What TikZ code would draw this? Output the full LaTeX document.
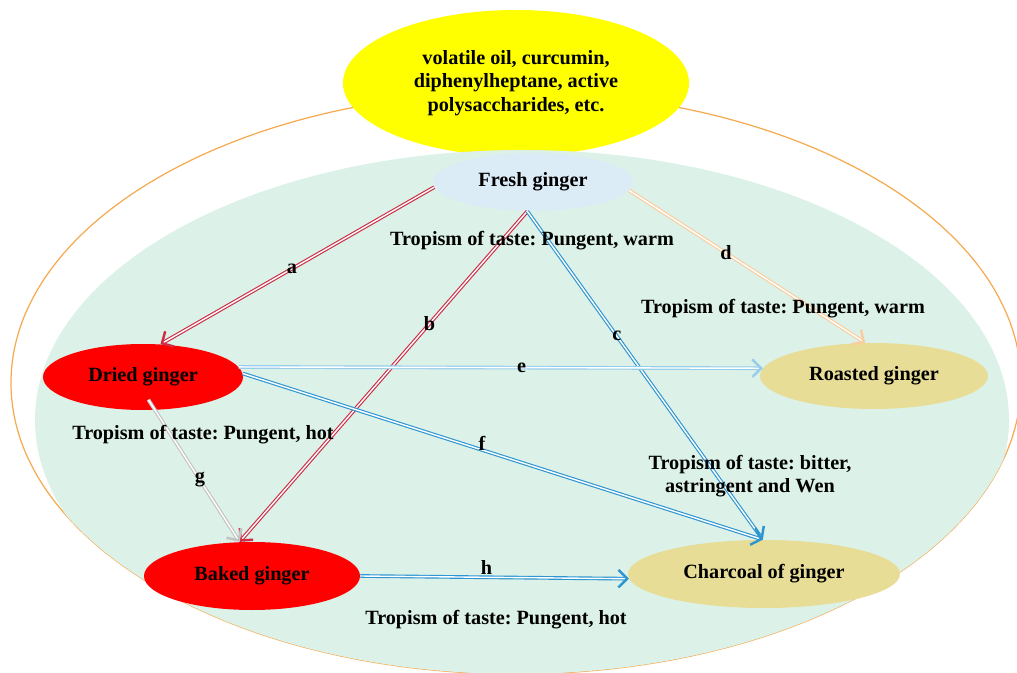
\documentclass[tikz,border=0pt]{standalone}
\usepackage{fontspec}
\setmainfont{Liberation Serif}
\usetikzlibrary{shapes.geometric,arrows.meta}
\definecolor{ringorange}{RGB}{245,170,80}
\definecolor{compyellow}{RGB}{255,255,0}
\definecolor{bggreen}{RGB}{220,241,231}
\definecolor{freshblue}{RGB}{220,236,246}
\definecolor{gingerred}{RGB}{255,0,0}
\definecolor{khaki}{RGB}{232,221,150}
\definecolor{arrred}{RGB}{205,45,70}
\definecolor{arrblue}{RGB}{45,150,210}
\definecolor{arrlight}{RGB}{150,205,235}
\definecolor{arrpeach}{RGB}{250,205,160}
\definecolor{arrgray}{RGB}{195,195,195}
\frenchspacing

\begin{document}
\begin{tikzpicture}[
    stage/.style={ellipse, inner sep=0pt, font=\bfseries\fontsize{11.5}{13.5}\selectfont},
    flow/.style={draw=#1, double=white, double distance=0.8pt, line width=0.65pt,
      -{Straight Barb[length=5pt,width=10pt,line width=1.4pt]}},
    lbl/.style={font=\bfseries\fontsize{11.5}{13.5}\selectfont, inner sep=0pt},
    taste/.style={font=\bfseries\fontsize{11.5}{13.5}\selectfont, align=center, inner sep=0pt}
  ]
    \useasboundingbox (0,0) rectangle (20.34,13.44);
    % outer ring and background
    \draw [ringorange, line width=0.7pt] (10.32,5.78) ellipse [x radius=10.10, y radius=5.82];
    \node [stage, fill=compyellow, minimum width=6.92cm, minimum height=2.92cm, align=center]
      (comp) at (10.32,11.78) {volatile oil, curcumin,\\diphenylheptane, active\\polysaccharides, etc.};
    \begin{scope}
      \clip (10.32,5.78) ellipse [x radius=10.10, y radius=5.82];
      \fill [bggreen] (10.44,5.04) ellipse [x radius=9.74, y radius=5.40];
    \end{scope}

    % processing stages
    \node [stage, fill=freshblue, minimum width=4cm, minimum height=1.16cm] (fresh) at (10.66,9.80) {Fresh ginger};
    \node [stage, fill=gingerred, minimum width=4cm, minimum height=1.32cm] (dried) at (2.86,5.90) {Dried ginger};
    \node [stage, fill=khaki, minimum width=4.56cm, minimum height=1.32cm] (roasted) at (17.48,5.92) {Roasted ginger};
    \node [stage, fill=gingerred, minimum width=4.32cm, minimum height=1.36cm] (baked) at (5.04,1.92) {Baked ginger};
    \node [stage, fill=khaki, minimum width=5.44cm, minimum height=1.36cm] (charcoal) at (15.28,1.96) {Charcoal of ginger};

    % transformations
    \draw [flow=arrred] (fresh.183) -- node [lbl, pos=0.52] (la) {a} (dried.62);
    \draw [flow=arrred] (fresh.259) -- node [lbl, pos=0.34] (lb) {b} (baked.110);
    \draw [flow=arrblue] (fresh.259) -- node [lbl, pos=0.38] (lc) {c} (charcoal.92);
    \draw [flow=arrpeach] (fresh.-5) -- node [lbl, pos=0.41] (ld) {d} (roasted.105);
    \draw [flow=arrlight] (dried.6) -- node [lbl, pos=0.54] (le) {e} (roasted.176);
    \draw [flow=arrblue] (dried.2) -- node [lbl, pos=0.46, yshift=4pt] (lf) {f} (charcoal.92);
    \draw [flow=arrgray, shorten <=-7pt] (dried.290) -- node [lbl, pos=0.53] (lg) {g} (baked.110);
    \draw [flow=arrblue] (baked.east) -- node [lbl, pos=0.47, yshift=5.5pt] (lh) {h} (charcoal.182);

    % tastes
    \node [taste] (tfresh) at (10.64,8.62) {Tropism of taste: Pungent, warm};
    \node [taste] (troast) at (15.66,7.26) {Tropism of taste: Pungent, warm};
    \node [taste] (tdried) at (4.06,4.74) {Tropism of taste: Pungent, hot};
    \node [taste] (tchar) at (15.00,3.92) {Tropism of taste: bitter,\\astringent and Wen};
    \node [taste] (tbaked) at (9.92,1.04) {Tropism of taste: Pungent, hot};
  \end{tikzpicture}
\end{document}
